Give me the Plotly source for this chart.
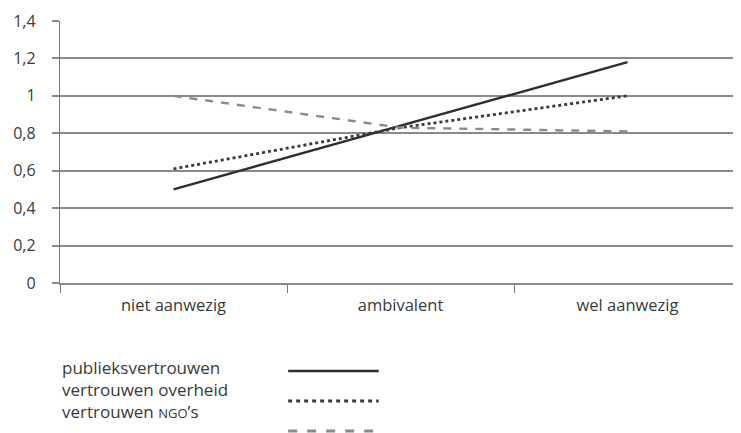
import plotly.graph_objects as go

categories = ["niet aanwezig", "ambivalent", "wel aanwezig"]
publieksvertrouwen = [0.50, 0.84, 1.18]
vertrouwen_overheid = [0.61, 0.83, 1.00]
vertrouwen_ngos = [1.00, 0.83, 0.81]
series_names = ["publieksvertrouwen", "vertrouwen overheid",
                "vertrouwen <span style='font-size:13px'>NGO</span>’s"]
y_tickvals = [0, 0.2, 0.4, 0.6, 0.8, 1.0, 1.2, 1.4]
y_ticktext = ["0", "0,2", "0,4", "0,6", "0,8", "1", "1,2", "1,4"]

FONT = "Open Sans"
TXT = "#3a3a3a"
GRID = "#8a8a8a"

styles = [
    dict(color="#2e2e2e", width=2.4, dash="solid"),
    dict(color="#3a3a3a", width=2.8, dash="3px,3px"),
    dict(color="#8a8a8a", width=2.4, dash="8px,8px"),
]
legend_styles = [
    dict(color="#2e2e2e", width=2.6, dash="solid"),
    dict(color="#3a3a3a", width=3, dash="4px,4px"),
    dict(color="#8a8a8a", width=3, dash="9px,10px"),
]
series = [publieksvertrouwen, vertrouwen_overheid, vertrouwen_ngos]

fig = go.Figure()
for vals, st, nm in zip(series, styles, series_names):
    fig.add_trace(go.Scatter(x=categories, y=vals, mode="lines", line=st,
                             name=nm, showlegend=False))

# page has an 8px body margin, so the figure is shrunk by 8px to fit the window
fig.update_layout(
    width=733, height=425,
    margin=dict(l=52, r=0, t=13, b=150),
    plot_bgcolor="white", paper_bgcolor="white",
    font=dict(family=FONT, color=TXT, size=16),
    xaxis=dict(type="category", range=[-0.5, 2.5], showgrid=False,
               tickson="boundaries", ticks="outside", ticklen=8,
               tickcolor="#777", tickwidth=1.3,
               showline=True, linecolor=GRID, linewidth=1.6,
               tickfont=dict(size=16.5, color=TXT), zeroline=False,
               ticklabelstandoff=6),
    yaxis=dict(range=[0, 1.4], tickvals=y_tickvals, ticktext=y_ticktext,
               showgrid=True, gridcolor=GRID, gridwidth=1.6,
               ticks="outside", ticklen=7, tickcolor=GRID, tickwidth=1.6,
               showline=True, linecolor="#777", linewidth=1.3,
               zeroline=False, tickfont=dict(size=16, color=TXT),
               ticklabelstandoff=13),
)

# legend built as text + line samples below the plot
legend_text_y = [-0.324, -0.408, -0.492]
legend_line_y = [-0.336, -0.450, -0.565]
for nm, st, ty, ly in zip(series_names, legend_styles, legend_text_y, legend_line_y):
    fig.add_annotation(xref="paper", yref="paper", x=0.0, y=ty, text=nm,
                       showarrow=False, xanchor="left", yanchor="middle",
                       font=dict(size=17, color=TXT, family=FONT))
    fig.add_shape(type="line", xref="paper", yref="paper",
                  x0=0.335, x1=0.468, y0=ly, y1=ly, line=st)

fig.write_html("out.html")
